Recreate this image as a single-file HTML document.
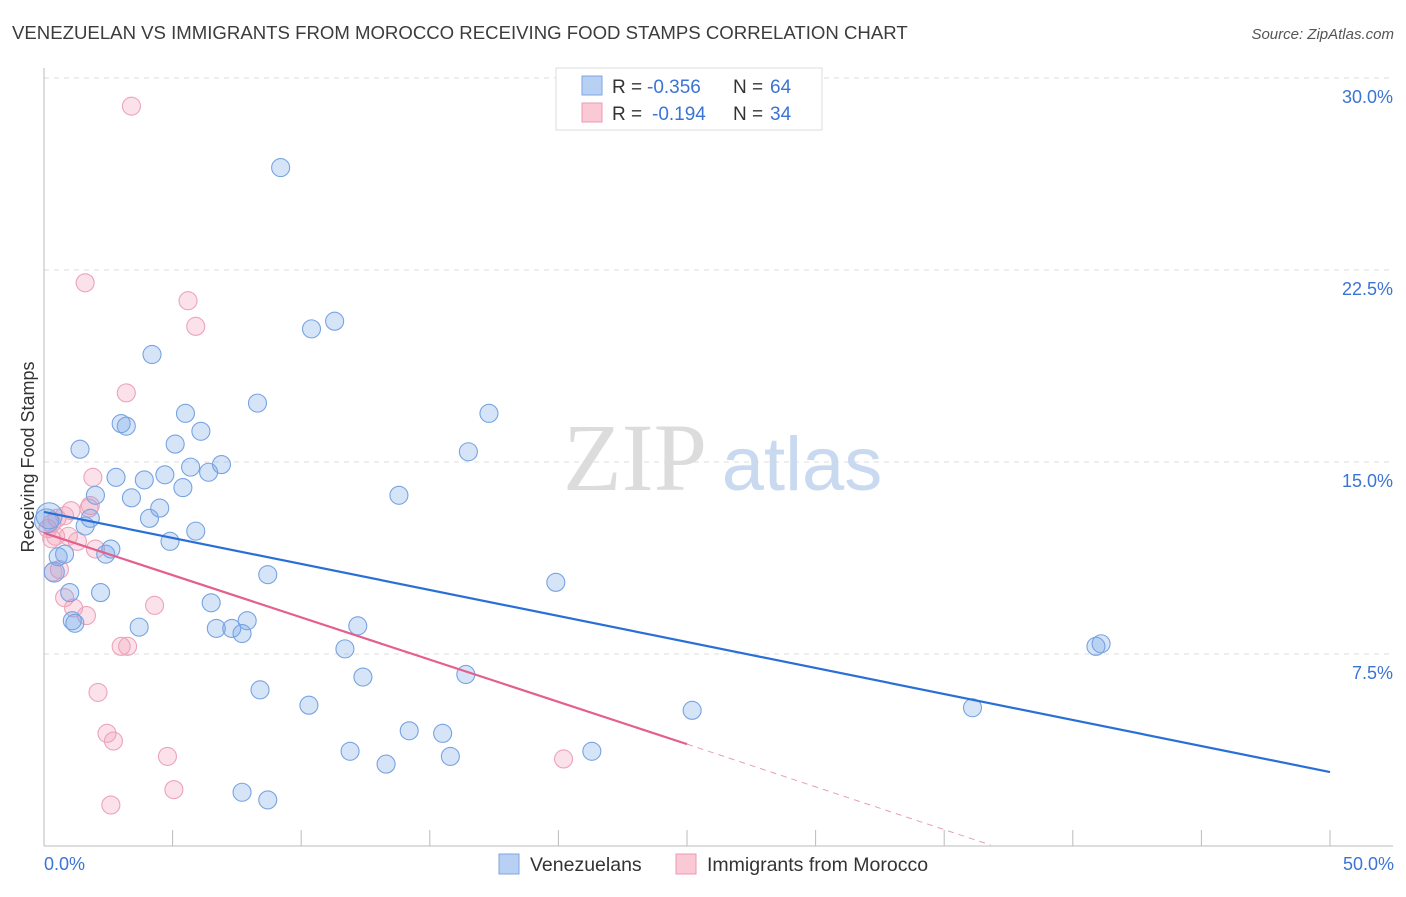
<!DOCTYPE html>
<html><head><meta charset="utf-8"><style>
body{margin:0;background:#fff;width:1406px;height:892px;overflow:hidden;font-family:"Liberation Sans",sans-serif}
</style></head><body>
<svg id="chart" width="1406" height="892" xmlns="http://www.w3.org/2000/svg">
<text x="12" y="39" font-size="18.6" fill="#3c3c3c">VENEZUELAN VS IMMIGRANTS FROM MOROCCO RECEIVING FOOD STAMPS CORRELATION CHART</text>
<text x="1394" y="39" font-size="15" font-style="italic" fill="#555" text-anchor="end">Source: ZipAtlas.com</text>
<g id="grid"></g>
<g>
<text x="635" y="490" font-size="96" font-family="Liberation Serif,serif" fill="#dcdcdc" text-anchor="middle">ZIP</text>
<text x="802" y="490" font-size="76" fill="#c9d9f0" text-anchor="middle">atlas</text>
</g>
<line x1="44" y1="68" x2="44" y2="846" stroke="#bbb"/>
<line x1="44" y1="846" x2="1393" y2="846" stroke="#bbb"/>
<g id="xticks"></g>
<g id="ylabels"></g>
<text x="44" y="870" font-size="18" fill="#3b74d4">0.0%</text>
<text x="1394" y="870" font-size="18" fill="#3b74d4" text-anchor="end">50.0%</text>
<text transform="translate(34,457) rotate(-90)" font-size="18" fill="#333" text-anchor="middle">Receiving Food Stamps</text>
<g id="pink"></g>
<g id="blue"></g>
<g id="trends"></g>
<g font-size="19">
<rect x="556" y="68" width="266" height="62" fill="#fff" stroke="#ddd"/>
<rect x="582" y="76" width="20" height="19" fill="#b7d0f3" stroke="#7fa6e3"/>
<text x="612" y="93" fill="#333">R =</text>
<text x="647" y="93" fill="#3b74d4">-0.356</text>
<text x="733" y="93" fill="#333">N =</text>
<text x="770" y="93" fill="#3b74d4">64</text>
<rect x="582" y="103" width="20" height="19" fill="#f9c9d6" stroke="#eb9ab2"/>
<text x="612" y="120" fill="#333">R =</text>
<text x="652" y="120" fill="#3b74d4">-0.194</text>
<text x="733" y="120" fill="#333">N =</text>
<text x="770" y="120" fill="#3b74d4">34</text>
</g>
<g>
<rect x="499" y="854" width="20" height="20" fill="#b7d0f3" stroke="#7fa6e3"/>
<text x="530" y="871" font-size="19.5" fill="#333">Venezuelans</text>
<rect x="676" y="854" width="20" height="20" fill="#f9c9d6" stroke="#eb9ab2"/>
<text x="707" y="871" font-size="19.5" fill="#333">Immigrants from Morocco</text>
</g>
</svg>
<script>
const blueX=[9.2,11.3,10.4,4.2,8.3,17.3,5.5,3.0,3.2,6.1,5.1,1.4,16.5,6.9,5.7,6.4,4.7,2.8,3.9,5.4,2.0,13.8,3.4,4.5,4.1,1.8,5.9,1.6,4.9,2.6,2.4,0.8,0.55,8.7,0.4,19.9,1.0,2.2,6.5,1.2,1.1,7.9,12.2,3.7,6.7,7.3,7.7,41.1,40.9,11.7,16.4,12.4,8.4,10.3,25.2,36.1,14.2,15.5,11.9,15.8,21.3,13.3,7.7,8.7,0.2,0.1];
const blueY=[26.5,20.5,20.2,19.2,17.3,16.9,16.9,16.5,16.4,16.2,15.7,15.5,15.4,14.9,14.8,14.6,14.5,14.4,14.3,14.0,13.7,13.7,13.6,13.2,12.8,12.8,12.3,12.5,11.9,11.6,11.4,11.4,11.3,10.6,10.7,10.3,9.9,9.9,9.5,8.7,8.8,8.8,8.6,8.55,8.5,8.5,8.3,7.9,7.8,7.7,6.7,6.6,6.1,5.5,5.3,5.4,4.5,4.4,3.7,3.5,3.7,3.2,2.1,1.8,12.9,12.7];
const blueR=[9,9,9,9,9,9,9,9,9,9,9,9,9,9,9,9,9,9,9,9,9,9,9,9,9,9,9,9,9,9,9,9,9,9,10,9,9,9,9,9,9,9,9,9,9,9,9,9,9,9,9,9,9,9,9,9,9,9,9,9,9,9,9,9,13,12];
const pinkX=[3.4,1.6,5.6,5.9,3.2,1.9,1.05,1.75,1.8,0.8,0.3,0.15,0.45,0.3,1.3,0.95,2.0,0.6,0.35,0.8,1.15,1.65,4.3,3.0,3.25,2.1,2.45,2.7,4.8,5.05,2.6,20.2,0.5];
const pinkY=[28.9,22.0,21.3,20.3,17.7,14.4,13.1,13.2,13.3,12.9,12.6,12.4,12.1,12.0,11.9,12.1,11.6,10.8,10.7,9.7,9.3,9.0,9.4,7.8,7.8,6.0,4.4,4.1,3.5,2.2,1.6,3.4,12.8];
const blueTrend=[[0,13.05],[50,2.89]];
const pinkTrend=[[0,12.23],[25,3.98]];
const pinkDash=[[25,3.98],[36.8,0.04]];
const yTicks=[7.5,15,22.5,30];
const yTickLabels=["7.5%","15.0%","22.5%","30.0%"];
const xTickVals=[0,5,10,15,20,25,30,35,40,45,50];
const X=v=>44+v*25.72, Y=v=>846-v*25.6;
const NS="http://www.w3.org/2000/svg";
function mk(tag,attrs,parent){const e=document.createElementNS(NS,tag);for(const k in attrs)e.setAttribute(k,attrs[k]);document.getElementById(parent).appendChild(e);return e;}
yTicks.forEach((t,i)=>{
 const g=mk('line',{x1:44,x2:1393,y1:Y(t),y2:Y(t),stroke:'#ddd','stroke-dasharray':'5,5'},'grid');
 
 
 const l=mk('text',{x:1393,y:Y(t)+25,'font-size':18,fill:'#3b74d4','text-anchor':'end'},'ylabels');
 l.textContent=yTickLabels[i];
 
 
});
xTickVals.forEach(v=>{
 const t=mk('line',{x1:X(v),x2:X(v),y1:830,y2:846,stroke:'#bbb'},'xticks');
 
 
});
pinkX.forEach((x,i)=>{
 const c=mk('circle',{cx:X(x),cy:Y(pinkY[i]),r:9,fill:'rgba(243,160,185,0.3)',stroke:'#eda3b9','stroke-width':1.1},'pink');
 
 
});
blueX.forEach((x,i)=>{
 const c=mk('circle',{cx:X(x),cy:Y(blueY[i]),r:blueR[i],fill:'rgba(120,165,232,0.3)',stroke:'#77a3e2','stroke-width':1.1},'blue');
 
 
});
let l1=mk('line',{x1:X(blueTrend[0][0]),y1:Y(blueTrend[0][1]),x2:X(blueTrend[1][0]),y2:Y(blueTrend[1][1]),stroke:'#2a6fd6','stroke-width':2.2},'trends');


let l2=mk('line',{x1:X(pinkTrend[0][0]),y1:Y(pinkTrend[0][1]),x2:X(pinkTrend[1][0]),y2:Y(pinkTrend[1][1]),stroke:'#e4608a','stroke-width':2.2},'trends');


let l3=mk('line',{x1:X(pinkDash[0][0]),y1:Y(pinkDash[0][1]),x2:X(pinkDash[1][0]),y2:Y(pinkDash[1][1]),stroke:'#e4a0b5','stroke-width':1,'stroke-dasharray':'6,5'},'trends');


</script>
</body></html>
